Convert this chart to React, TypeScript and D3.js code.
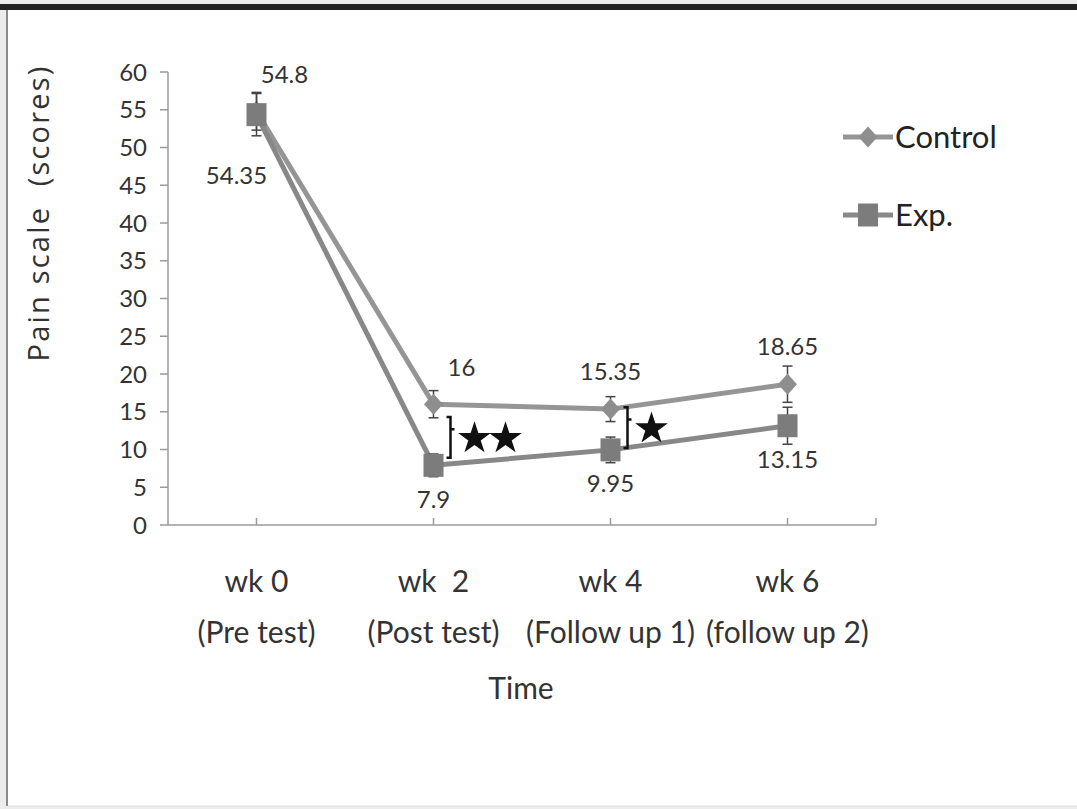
import React, { useEffect, useRef } from "react";
import * as d3 from "d3";

const W = 1077;
const H = 809;

// categories (two line labels)
const categories = ["wk0", "wk2", "wk4", "wk6"];
const catLine1 = ["wk 0", "wk  2", "wk 4", "wk 6"];
const catLine2 = ["(Pre test)", "(Post test)", "(Follow up 1)", "(follow up 2)"];

// series values
const controlValues = [54.8, 16, 15.35, 18.65];
const controlErr = [2.5, 1.8, 1.65, 2.4];
const expValues = [54.35, 7.9, 9.95, 13.15];
const expErr = [2.8, 1.5, 1.7, 2.45];

// where each data label sits relative to its point
const controlLabelPlace = ["aboveRight", "aboveRight", "above", "above"];
const expLabelPlace = ["belowLeft", "below", "below", "below"];

const yTicks = [0, 5, 10, 15, 20, 25, 30, 35, 40, 45, 50, 55, 60];

// significance brackets
const sigCategories = ["wk2", "wk4"];
const sigHigh = [14.3, 15.6];
const sigLow = [8.9, 10.2];
const sigStars = [2, 1];

const FONT = "Lato, 'Open Sans', sans-serif";

const App = () => {
  const svgRef = useRef<SVGSVGElement | null>(null);

  useEffect(() => {
    const svg = d3.select(svgRef.current);
    svg.selectAll("*").remove();

    const x = d3.scalePoint().domain(categories).range([168, 876]).padding(0.5);
    const y = d3.scaleLinear().domain([0, 60]).range([525, 72]);

    // page frame
    svg.append("rect").attr("width", W).attr("height", H).attr("fill", "#ececec");
    svg.append("rect").attr("x", 8).attr("y", 10).attr("width", W - 8).attr("height", 796).attr("fill", "#ffffff");
    svg.append("rect").attr("x", 0).attr("y", 4).attr("width", W).attr("height", 6).attr("fill", "#222222");
    svg.append("rect").attr("x", 6).attr("y", 10).attr("width", 2).attr("height", 796).attr("fill", "#8a8a8a");
    svg.append("line").attr("x1", 8).attr("x2", W).attr("y1", 806).attr("y2", 806).attr("stroke", "#dddddd");

    const axisColor = "#9a9a9a";
    const g = svg.append("g");

    // y axis
    g.append("line").attr("x1", 168).attr("x2", 168).attr("y1", y(60)).attr("y2", y(0))
      .attr("stroke", axisColor).attr("stroke-width", 1.5);
    yTicks.forEach((t) => {
      g.append("line").attr("x1", 160).attr("x2", 168).attr("y1", y(t)).attr("y2", y(t))
        .attr("stroke", axisColor).attr("stroke-width", 1.5);
      g.append("text").attr("x", 147).attr("y", y(t) + 8.5).attr("text-anchor", "end")
        .attr("font-family", FONT).attr("font-size", 24).attr("fill", "#333").text(t);
    });

    // x axis
    g.append("line").attr("x1", 168).attr("x2", 876).attr("y1", y(0)).attr("y2", y(0))
      .attr("stroke", axisColor).attr("stroke-width", 1.5);
    [...categories.map((c) => x(c)!), 876].forEach((px) => {
      g.append("line").attr("x1", px).attr("x2", px).attr("y1", y(0)).attr("y2", y(0) - 7)
        .attr("stroke", axisColor).attr("stroke-width", 1.5);
    });

    categories.forEach((c, i) => {
      g.append("text").attr("x", x(c)!).attr("y", 592).attr("text-anchor", "middle")
        .attr("font-family", FONT).attr("font-size", 30).attr("fill", "#333")
        .style("white-space", "pre").text(catLine1[i]);
      g.append("text").attr("x", x(c)!).attr("y", 643).attr("text-anchor", "middle")
        .attr("font-family", FONT).attr("font-size", 30).attr("fill", "#333").text(catLine2[i]);
    });

    g.append("text").attr("x", 521).attr("y", 699).attr("text-anchor", "middle")
      .attr("font-family", FONT).attr("font-size", 30).attr("fill", "#333").text("Time");

    g.append("text")
      .attr("transform", `translate(49, 213) rotate(-90)`)
      .attr("text-anchor", "middle")
      .attr("font-family", "'Open Sans', sans-serif")
      .attr("font-size", 29)
      .attr("letter-spacing", 2.2)
      .attr("fill", "#333")
      .style("white-space", "pre")
      .text("Pain scale  (scores)");

    const lineGen = d3.line<number>().x((_, i) => x(categories[i])!).y((d) => y(d));

    const series = [
      { values: controlValues, err: controlErr, place: controlLabelPlace, line: "#959595", fill: "#8e8e8e", shape: "diamond" },
      { values: expValues, err: expErr, place: expLabelPlace, line: "#888888", fill: "#7c7c7c", shape: "square" },
    ];

    const offsets: Record<string, [number, number]> = {
      above: [0, -38],
      aboveRight: [28, -37],
      below: [0, 34],
      belowLeft: [-20, 61],
    };

    const drawMarker = (sel: any, shape: string, cx: number, cy: number, fill: string) => {
      if (shape === "diamond") {
        sel.append("path")
          .attr("d", `M${cx},${cy - 10.5}L${cx + 9.5},${cy}L${cx},${cy + 10.5}L${cx - 9.5},${cy}Z`)
          .attr("fill", fill);
      } else {
        sel.append("rect").attr("x", cx - 10).attr("y", cy - 11.5).attr("width", 20).attr("height", 23)
          .attr("fill", fill);
      }
    };

    series.forEach((s) => {
      g.append("path").datum(s.values).attr("d", lineGen).attr("fill", "none")
        .attr("stroke", s.line).attr("stroke-width", 5).attr("stroke-linejoin", "round");
    });

    series.forEach((s) => {
      s.values.forEach((v, i) => {
        const cx = x(categories[i])!;
        const cy = y(v);
        const top = y(v + s.err[i]);
        const bot = y(v - s.err[i]);
        g.append("line").attr("x1", cx).attr("x2", cx).attr("y1", top).attr("y2", bot)
          .attr("stroke", "#444").attr("stroke-width", 1.5);
        [top, bot].forEach((yy) => {
          g.append("line").attr("x1", cx - 5).attr("x2", cx + 5).attr("y1", yy).attr("y2", yy)
            .attr("stroke", "#444").attr("stroke-width", 1.5);
        });
        drawMarker(g, s.shape, cx, cy, s.fill);
        const [dx, dy] = offsets[s.place[i]];
        g.append("text").attr("x", cx + dx).attr("y", cy + dy + 8.5).attr("text-anchor", "middle")
          .attr("font-family", FONT).attr("font-size", 24).attr("fill", "#333").text(v);
      });
    });

    // significance brackets and stars
    const star = d3.symbol().type(d3.symbolStar).size(330);
    sigCategories.forEach((c, i) => {
      const bx = x(c)! + 17;
      const y1 = y(sigHigh[i]);
      const y2 = y(sigLow[i]);
      const ym = y1 + (y2 - y1) * 0.3;
      g.append("path")
        .attr("d", `M${bx - 4},${y1}H${bx}V${y2}H${bx - 4}M${bx},${ym}H${bx + 4}`)
        .attr("fill", "none").attr("stroke", "#111").attr("stroke-width", 2.5);
      const sy = (y1 + y2) / 2 + 1;
      for (let k = 0; k < sigStars[i]; k++) {
        g.append("path").attr("d", star()!)
          .attr("transform", `translate(${bx + 24 + k * 31},${sy})`)
          .attr("fill", "#111");
      }
    });

    // legend
    const legendItems = [
      { name: "Control", ly: 137, s: series[0] },
      { name: "Exp.", ly: 215, s: series[1] },
    ];
    legendItems.forEach((it) => {
      g.append("line").attr("x1", 843).attr("x2", 893).attr("y1", it.ly).attr("y2", it.ly)
        .attr("stroke", it.s.line).attr("stroke-width", 5);
      drawMarker(g, it.s.shape, 868, it.ly, it.s.fill);
      g.append("text").attr("x", 895).attr("y", it.ly + 11).attr("font-family", FONT)
        .attr("font-size", 31).attr("fill", "#222").text(it.name);
    });
  }, []);

  return (
    <svg
      ref={svgRef}
      width={W}
      height={H}
      style={{ position: "fixed", top: 0, left: 0, display: "block" }}
    />
  );
};

export default App;
